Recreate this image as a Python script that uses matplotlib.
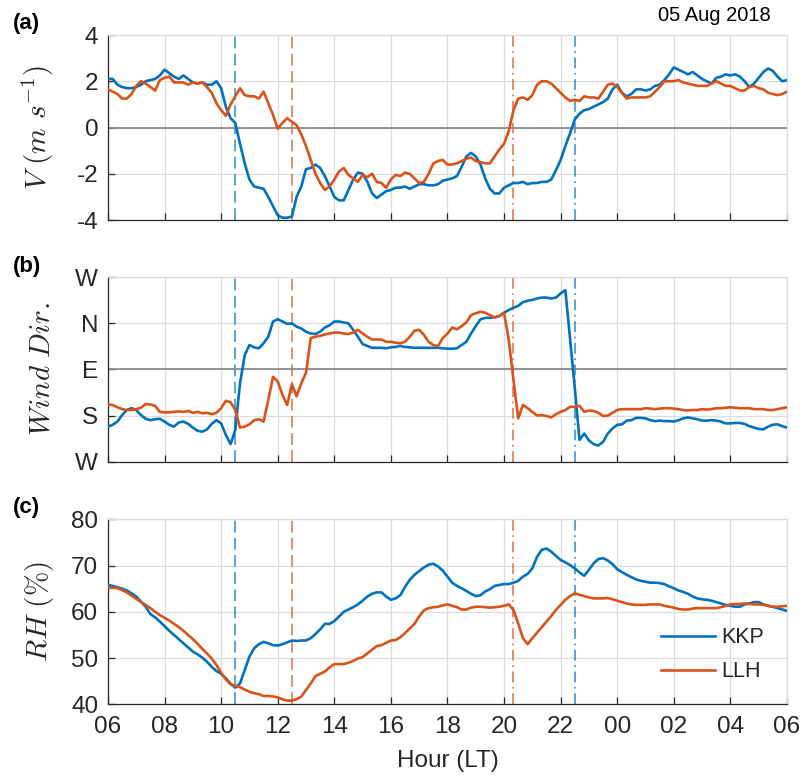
import numpy as np
import matplotlib.pyplot as plt
from matplotlib.lines import Line2D

plt.rcParams['font.family'] = ['Liberation Sans', 'DejaVu Sans']
plt.rcParams['mathtext.fontset'] = 'cm'

# 10-minute samples, 06:00 -> 06:00 next day (hours since midnight, >24 = next day)
hours = 6 + np.arange(145) / 6.0

v_kkp = [2.1, 2.1, 1.85, 1.75, 1.7, 1.7, 1.75, 1.85, 2.0, 2.05, 2.1, 2.25,
         2.5, 2.35, 2.2, 2.1, 2.25, 2.1, 1.95, 1.9, 1.95, 1.85, 1.85, 2.0,
         1.7, 0.9, 0.4, 0.2, -0.7, -1.55, -2.25, -2.55, -2.6, -2.65, -3.0, -3.4,
         -3.8, -3.9, -3.9, -3.85, -3.0, -2.55, -1.8, -1.75, -1.6, -1.75, -2.1, -2.55,
         -3.0, -3.15, -3.15, -2.7, -2.25, -1.95, -2.0, -2.35, -2.85, -3.05, -2.9, -2.75,
         -2.7, -2.6, -2.6, -2.55, -2.65, -2.55, -2.45, -2.45, -2.5, -2.5, -2.45, -2.3,
         -2.25, -2.2, -2.1, -1.7, -1.25, -1.1, -1.25, -1.6, -2.2, -2.65, -2.85, -2.85,
         -2.6, -2.5, -2.4, -2.4, -2.35, -2.45, -2.4, -2.4, -2.35, -2.35, -2.25, -1.85,
         -1.4, -0.8, -0.25, 0.35, 0.6, 0.75, 0.8, 0.9, 1.0, 1.1, 1.25, 1.65,
         1.85, 1.5, 1.35, 1.45, 1.65, 1.65, 1.6, 1.65, 1.8, 1.85, 2.05, 2.3,
         2.6, 2.5, 2.4, 2.3, 2.4, 2.25, 2.1, 2.0, 1.9, 2.15, 2.2, 2.3,
         2.25, 2.3, 2.2, 2.0, 1.75, 1.9, 2.15, 2.4, 2.55, 2.45, 2.2, 2.0,
         2.05]
v_llh = [1.65, 1.55, 1.45, 1.25, 1.25, 1.45, 1.8, 2.0, 1.9, 1.75, 1.6, 2.05,
         2.15, 2.2, 1.95, 1.95, 1.95, 1.85, 1.95, 1.9, 1.95, 1.75, 1.5, 1.05,
         0.75, 0.5, 1.0, 1.35, 1.7, 1.4, 1.35, 1.35, 1.25, 1.55, 1.05, 0.55,
         -0.05, 0.2, 0.4, 0.25, 0.1, -0.3, -0.8, -1.4, -2.0, -2.4, -2.7, -2.55,
         -2.25, -1.9, -1.75, -2.05, -2.2, -2.35, -2.05, -2.15, -2.0, -2.35, -2.4, -2.6,
         -2.25, -2.05, -2.1, -1.95, -2.0, -2.2, -2.4, -2.35, -2.0, -1.55, -1.45, -1.4,
         -1.6, -1.6, -1.55, -1.45, -1.35, -1.3, -1.45, -1.5, -1.55, -1.55, -1.25, -0.95,
         -0.7, -0.15, 0.75, 1.25, 1.3, 1.2, 1.4, 1.85, 2.0, 2.0, 1.9, 1.7,
         1.5, 1.3, 1.15, 1.2, 1.15, 1.35, 1.3, 1.3, 1.25, 1.55, 1.85, 1.9,
         1.75, 1.5, 1.25, 1.3, 1.3, 1.3, 1.3, 1.35, 1.55, 1.75, 2.0, 2.0,
         2.0, 2.05, 1.95, 1.9, 1.85, 1.8, 1.8, 1.8, 1.9, 2.0, 1.9, 1.8,
         1.8, 1.7, 1.6, 1.6, 1.75, 1.8, 1.7, 1.65, 1.5, 1.45, 1.4, 1.45,
         1.55]

# wind direction on a 0..4 scale: W, S, E, N, W
dir_kkp = [0.76, 0.8, 0.87, 1.01, 1.12, 1.16, 1.12, 1.01, 0.93, 0.9, 0.92, 0.93,
           0.87, 0.8, 0.76, 0.85, 0.87, 0.82, 0.74, 0.67, 0.65, 0.7, 0.82, 0.9,
           0.83, 0.58, 0.38, 0.69, 1.7, 2.31, 2.53, 2.48, 2.46, 2.57, 2.71, 3.04,
           3.09, 3.04, 2.99, 3.0, 2.93, 2.89, 2.82, 2.78, 2.77, 2.82, 2.91, 2.96,
           3.04, 3.04, 3.02, 3.0, 2.86, 2.71, 2.55, 2.51, 2.47, 2.47, 2.47, 2.46,
           2.48, 2.49, 2.51, 2.49, 2.48, 2.47, 2.47, 2.47, 2.47, 2.47, 2.47, 2.46,
           2.45, 2.45, 2.46, 2.53, 2.6, 2.78, 2.94, 3.09, 3.12, 3.12, 3.13, 3.16,
           3.23, 3.29, 3.34, 3.38, 3.46, 3.49, 3.51, 3.54, 3.56, 3.56, 3.54, 3.56,
           3.65, 3.72, 2.65, 1.6, 0.47, 0.61, 0.46, 0.38, 0.35, 0.43, 0.61, 0.72,
           0.8, 0.81, 0.89, 0.9, 0.95, 0.95, 0.94, 0.9, 0.88, 0.89, 0.88, 0.88,
           0.87, 0.9, 0.94, 0.96, 0.94, 0.92, 0.89, 0.89, 0.9, 0.89, 0.87, 0.83,
           0.83, 0.84, 0.84, 0.82, 0.77, 0.74, 0.71, 0.7, 0.76, 0.8, 0.81, 0.77,
           0.74]
dir_llh = [1.24, 1.23, 1.18, 1.14, 1.12, 1.12, 1.14, 1.17, 1.25, 1.24, 1.21, 1.08,
           1.07, 1.07, 1.08, 1.09, 1.08, 1.1, 1.06, 1.08, 1.05, 1.06, 1.03, 1.06,
           1.16, 1.32, 1.29, 1.12, 0.74, 0.76, 0.81, 0.9, 0.92, 0.87, 1.34, 1.84,
           1.74, 1.45, 1.23, 1.68, 1.42, 1.7, 1.93, 2.68, 2.71, 2.73, 2.76, 2.78,
           2.8, 2.8, 2.78, 2.77, 2.8, 2.86, 2.78, 2.71, 2.65, 2.65, 2.65, 2.6,
           2.6, 2.58, 2.57, 2.6, 2.71, 2.84, 2.86, 2.75, 2.6, 2.53, 2.51, 2.68,
           2.78, 2.91, 2.87, 2.94, 3.02, 3.18, 3.22, 3.25, 3.23, 3.18, 3.13, 3.16,
           3.23, 2.64, 1.77, 0.94, 1.23, 1.16, 1.08, 1.0, 1.01, 0.99, 0.96, 1.03,
           1.08, 1.12, 1.19, 1.19, 1.21, 1.08, 1.11, 1.1, 1.06, 0.99, 1.0, 1.06,
           1.12, 1.14, 1.14, 1.14, 1.14, 1.14, 1.16, 1.15, 1.14, 1.15, 1.16, 1.16,
           1.15, 1.14, 1.12, 1.11, 1.12, 1.12, 1.14, 1.13, 1.14, 1.16, 1.16, 1.17,
           1.18, 1.17, 1.16, 1.16, 1.16, 1.14, 1.14, 1.14, 1.12, 1.12, 1.14, 1.16,
           1.18]

rh_kkp = [65.8, 65.6, 65.3, 65.0, 64.6, 64.0, 63.3, 62.2, 61.1, 59.5, 58.8, 57.9,
          56.9, 55.9, 55.0, 54.1, 53.2, 52.3, 51.4, 50.8, 50.1, 49.2, 48.1, 47.2,
          46.6, 45.6, 44.5, 43.6, 44.5, 47.4, 50.3, 52.1, 53.0, 53.5, 53.2, 52.8,
          52.7, 53.0, 53.4, 53.8, 53.7, 53.8, 53.8, 54.3, 55.2, 56.2, 57.4, 57.4,
          58.0, 59.0, 60.0, 60.5, 61.0, 61.6, 62.4, 63.3, 63.9, 64.2, 64.2, 63.3,
          62.6, 62.9, 63.6, 65.4, 66.9, 68.0, 68.8, 69.6, 70.2, 70.4, 69.8, 68.9,
          67.6, 66.3, 65.6, 65.1, 64.5, 63.9, 63.4, 63.6, 64.4, 64.9, 65.6, 65.8,
          66.0, 66.0, 66.3, 66.7, 67.6, 68.2, 69.4, 71.9, 73.4, 73.7, 73.0, 72.1,
          71.2, 70.7, 70.1, 69.4, 68.5, 67.8, 69.1, 70.5, 71.4, 71.6, 71.1, 70.3,
          69.2, 68.6, 68.0, 67.5, 67.0, 66.7, 66.5, 66.3, 66.3, 66.2, 66.0, 65.5,
          65.1, 64.6, 64.3, 63.9, 63.3, 62.9, 62.7, 62.6, 62.4, 62.1, 61.8, 61.5,
          61.3, 61.1, 61.1, 61.6, 61.8, 62.1, 62.1, 61.6, 61.3, 61.1, 60.8, 60.5,
          60.2]
rh_llh = [65.2, 65.2, 65.1, 64.7, 64.2, 63.5, 62.8, 62.1, 61.5, 60.8, 60.0, 59.3,
          58.7, 58.1, 57.4, 56.7, 55.9, 55.0, 54.1, 53.1, 52.0, 51.0, 49.9, 48.5,
          46.8, 45.4, 44.3, 44.0, 43.7, 43.2, 42.7, 42.4, 42.2, 41.8, 41.8, 41.7,
          41.5, 41.1, 40.8, 40.8, 41.1, 41.7, 43.1, 44.5, 46.1, 46.6, 47.1, 48.0,
          48.7, 48.7, 48.7, 49.0, 49.4, 49.9, 50.2, 51.0, 51.8, 52.6, 52.8, 53.3,
          53.8, 53.9, 54.5, 55.4, 56.4, 57.4, 59.0, 60.3, 60.8, 61.0, 61.1, 61.4,
          61.6, 61.3, 61.0, 60.5, 60.5, 60.9, 61.1, 61.1, 61.0, 60.9, 61.0, 61.1,
          61.3, 61.6, 60.4, 57.5, 54.3, 53.0, 54.3, 55.5, 56.7, 57.9, 59.1, 60.4,
          61.5, 62.6, 63.4, 64.0, 63.7, 63.4, 63.1, 62.9, 62.9, 62.9, 63.0, 62.7,
          62.4, 62.1, 61.8, 61.6, 61.5, 61.5, 61.5, 61.6, 61.6, 61.6, 61.3, 61.1,
          60.9, 60.6, 60.5, 60.5, 60.7, 60.8, 60.8, 60.8, 60.8, 60.8, 61.0, 61.3,
          61.6, 61.7, 61.7, 61.8, 61.7, 61.6, 61.6, 61.5, 61.3, 61.1, 61.1, 61.2,
          61.3]

# sea-breeze onset / end times (hours)
onset_kkp, onset_llh = 10.5, 12.5
end_llh, end_kkp = 20.33, 22.5

xticks = np.arange(6, 31, 2)
xticklabels = ['%02d' % (h % 24) for h in xticks]
dir_labels = ['W', 'S', 'E', 'N', 'W']

blue = '#0072BD'
orange = '#D95319'
txt = '#262626'

fig = plt.figure(figsize=(8.01, 7.78), dpi=100)
ax_a = fig.add_axes([0.1348, 0.7172, 0.8477, 0.2378])
ax_b = fig.add_axes([0.1348, 0.4066, 0.8477, 0.2370])
ax_c = fig.add_axes([0.1348, 0.0947, 0.8477, 0.2378])

panels = [(ax_a, v_kkp, v_llh), (ax_b, dir_kkp, dir_llh), (ax_c, rh_kkp, rh_llh)]
for ax, y1, y2 in panels:
    ax.grid(True, color='#dcdcdc', linewidth=0.9)
    ax.set_axisbelow(True)
    for t, c, ls in [(onset_kkp, blue, (0, (6.5, 3))), (onset_llh, orange, (0, (6.5, 3))),
                     (end_llh, orange, (0, (6, 2.5, 1, 2.5))), (end_kkp, blue, (0, (6, 2.5, 1, 2.5)))]:
        ax.axvline(t, color=c, alpha=0.7, linewidth=1.3, linestyle=ls, zorder=2)
    ax.plot(hours, y1, color=blue, linewidth=1.9, label='KKP', zorder=3)
    ax.plot(hours, y2, color=orange, linewidth=1.9, label='LLH', zorder=3)
    ax.set_xlim(6, 30)
    ax.set_xticks(xticks)
    ax.tick_params(direction='in', length=5, width=0.9, colors=txt, labelsize=17.5,
                   top=False, right=False)
    ax.tick_params(axis='x', pad=8.5)
    ax.tick_params(axis='y', pad=7)
    ax.spines['top'].set_color('#dcdcdc')
    ax.spines['right'].set_color('#dcdcdc')
    ax.spines['left'].set_color(txt)
    ax.spines['bottom'].set_color(txt)
    for s in ax.spines.values():
        s.set_linewidth(0.9)

ax_a.axhline(0, color='#8c8c8c', linewidth=1.3, zorder=2)
ax_a.set_ylim(-4, 4)
ax_a.set_yticks([-4, -2, 0, 2, 4])
ax_a.set_yticklabels(['-4', '-2', '0', '2', '4'])
ax_a.set_xticklabels([])
ax_a.set_ylabel(r'$V\ (m\ s^{-1})$', fontsize=21, color=txt)

ax_b.axhline(2, color='#8c8c8c', linewidth=1.3, zorder=2)
ax_b.set_ylim(0, 4)
ax_b.set_yticks(range(5))
ax_b.set_yticklabels(dir_labels)
ax_b.set_xticklabels([])
ax_b.set_ylabel(r'$Wind\ Dir.$', fontsize=21, color=txt)

ax_c.set_ylim(40, 80)
ax_c.set_yticks([40, 50, 60, 70, 80])
ax_c.set_xticklabels(xticklabels)
ax_c.set_ylabel(r'$RH\ (\%)$', fontsize=21, color=txt)
ax_c.set_xlabel('Hour (LT)', fontsize=17.5, color=txt)
ax_c.xaxis.set_label_coords(0.5, -0.249)
ax_c.xaxis.label.set_va('top')

for ax in (ax_a, ax_b, ax_c):
    ax.yaxis.set_label_coords(-0.077, 0.5)

handles = [Line2D([], [], color=blue, linewidth=1.9), Line2D([], [], color=orange, linewidth=1.9)]
ax_c.legend(handles, ['KKP', 'LLH'], loc='lower right', bbox_to_anchor=(0.995, 0.015),
            frameon=False, fontsize=15.5, handlelength=2.5, handletextpad=0.3,
            labelspacing=0.6, labelcolor=txt)

fig.text(0.016, 0.970, '(a)', fontsize=16, fontweight='bold', va='center', color='black')
fig.text(0.016, 0.658, '(b)', fontsize=16, fontweight='bold', va='center', color='black')
fig.text(0.016, 0.348, '(c)', fontsize=16, fontweight='bold', va='center', color='black')
fig.text(0.962, 0.98, '05 Aug 2018', fontsize=14.5, ha='right', va='center', color='black')

fig.savefig('out.png', dpi=100)
